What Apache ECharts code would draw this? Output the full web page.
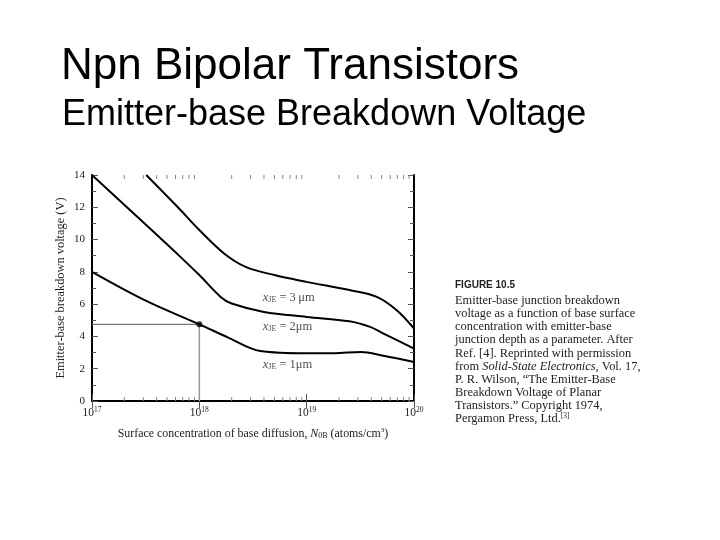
<!DOCTYPE html>
<html><head><meta charset="utf-8">
<script src="https://cdn.jsdelivr.net/npm/echarts@6/dist/echarts.min.js"></script>
<style>html,body{margin:0;padding:0;background:#fff}#c{width:720px;height:540px}</style>
</head><body><div id="c"></div>
<script>
// Data
const xje1X = [1e17, 3.2e17, 1e18, 1.9e18, 3.7e18, 1e19, 1.8e19, 3.2e19, 5.2e19, 1e20];
const xje1Y = [8.0, 6.2, 4.75, 3.9, 3.1, 2.96, 2.96, 3.04, 2.8, 2.42];
const xje2X = [1e17, 3.2e17, 6.25e17, 1e18, 1.58e18, 2e18, 4e18, 1e19, 2.5e19, 3.9e19, 5.2e19, 1e20];
const xje2Y = [14.0, 10.9, 9.1, 7.8, 6.45, 6.04, 5.52, 5.21, 4.94, 4.59, 4.18, 3.25];
const xje3X = [3.2e17, 6.25e17, 1e18, 1.7e18, 2.7e18, 5e18, 1e19, 2.5e19, 4.5e19, 6.9e19, 1e20];
const xje3Y = [14.0, 12.03, 10.59, 9.14, 8.31, 7.8, 7.38, 6.87, 6.45, 5.62, 4.49];
const curveLabels = ['3\u2009\u03bcm', '2\u03bcm', '1\u03bcm'];
const labelX = [3.9e18, 3.9e18, 3.9e18];
const labelY = [6.4, 4.6, 2.27];
const markX = 1e18, markY = 4.75;
const minorX = [2e17,3e17,4e17,5e17,6e17,7e17,8e17,9e17,2e18,3e18,4e18,5e18,6e18,7e18,8e18,9e18,2e19,3e19,4e19,5e19,6e19,7e19,8e19,9e19];
const captionLines = [
  'Emitter-base junction breakdown',
  'voltage as a function of base surface',
  'concentration with emitter-base',
  'junction depth as a parameter. After',
  'Ref. [4]. Reprinted with permission',
  'from {i|Solid-State Electronics}, Vol. 17,',
  'P. R. Wilson, \u201cThe Emitter-Base',
  'Breakdown Voltage of Planar',
  'Transistors.\u201d Copyright 1974,',
  'Pergamon Press, Ltd.{s|[3]}'
];

const zip = (xs, ys) => xs.map((x, i) => [x, ys[i]]);
const serif = 'Liberation Serif';
const chart = echarts.init(document.getElementById('c'));
const supRich = {b: {fontFamily: serif, fontSize: 11.5, color: '#222'}, s: {fontFamily: serif, fontSize: 7.5, color: '#222', verticalAlign: 'top', padding: [0,0,6,0]}};
const lineSeries = (xs, ys) => ({type: 'line', data: zip(xs, ys), smooth: 0.35, showSymbol: false, lineStyle: {color: '#000', width: 2}, z: 5, silent: true});

chart.setOption({
  animation: false,
  backgroundColor: '#fff',
  title: [
    {text: 'Npn Bipolar Transistors', left: 61, top: 44.5, padding: 0, textStyle: {fontFamily: 'Liberation Sans', fontSize: 44, fontWeight: 'normal', color: '#000'}},
    {text: 'Emitter-base Breakdown Voltage', left: 62, top: 97.5, padding: 0, textStyle: {fontFamily: 'Liberation Sans', fontSize: 36, fontWeight: 'normal', color: '#000'}},
    {text: 'FIGURE 10.5', left: 455, top: 280, padding: 0, textStyle: {fontFamily: 'Liberation Sans', fontSize: 10, fontWeight: 'bold', color: '#222'}},
    {text: captionLines.join('\n'), left: 455, top: 294.3, padding: 0, textStyle: {fontFamily: serif, fontSize: 12.4, lineHeight: 13.1, fontWeight: 'normal', color: '#222',
      rich: {i: {fontFamily: serif, fontSize: 12.4, fontStyle: 'italic', color: '#222', lineHeight: 13.1}, s: {fontFamily: serif, fontSize: 7.5, color: '#222', verticalAlign: 'top', lineHeight: 13.1}}}}
  ],
  grid: {left: 92, right: 306, top: 175, bottom: 139},
  xAxis: [
    {type: 'log', logBase: 10, min: 1e17, max: 1e20, position: 'bottom',
     axisLine: {lineStyle: {color: '#000', width: 2}}, axisTick: {inside: true, length: 7, lineStyle: {color: '#555'}},
     splitLine: {show: false}, minorTick: {show: false},
     axisLabel: {margin: 5, formatter: v => '{b|10}{s|' + Math.round(Math.log10(v)) + '}', rich: supRich},
     name: '{t|Surface concentration of base diffusion, }{i|N}{sub|0B}{t| (atoms/cm}{s|3}{t|)}', nameLocation: 'middle', nameGap: 26,
     nameTextStyle: {rich: {t: {fontFamily: serif, fontSize: 11.9, color: '#222'}, i: {fontFamily: serif, fontSize: 11.9, fontStyle: 'italic', color: '#222'}, sub: {fontFamily: serif, fontSize: 8, color: '#222', verticalAlign: 'bottom', padding: [4,0,0,0]}, s: {fontFamily: serif, fontSize: 7, color: '#222', verticalAlign: 'top', padding: [0,0,6,0]}}}},
    {type: 'log', logBase: 10, min: 1e17, max: 1e20, position: 'top',
     axisLine: {lineStyle: {color: '#000', width: 2}}, axisTick: {inside: true, length: 7, lineStyle: {color: '#555'}},
     axisLabel: {show: false}, splitLine: {show: false}}
  ],
  yAxis: [
    {type: 'value', min: 0, max: 14, interval: 2, position: 'left',
     axisLine: {show: true, lineStyle: {color: '#000', width: 2}}, axisTick: {show: true, inside: true, length: 6, lineStyle: {color: '#555'}},
     minorTick: {show: true, splitNumber: 2, length: 4, lineStyle: {color: '#555'}},
     splitLine: {show: false},
     axisLabel: {fontFamily: serif, fontSize: 11, color: '#222', margin: 7},
     name: 'Emitter-base breakdown voltage (V)', nameLocation: 'middle', nameGap: 25, nameRotate: 90,
     nameTextStyle: {fontFamily: serif, fontSize: 12.4, color: '#222'}},
    {type: 'value', min: 0, max: 14, interval: 2, position: 'right',
     axisLine: {show: true, lineStyle: {color: '#000', width: 2}}, axisTick: {show: true, inside: true, length: 6, lineStyle: {color: '#555'}},
     minorTick: {show: true, splitNumber: 2, length: 4, lineStyle: {color: '#555'}},
     splitLine: {show: false}, axisLabel: {show: false}}
  ],
  series: [
    lineSeries(xje1X, xje1Y),
    lineSeries(xje2X, xje2Y),
    lineSeries(xje3X, xje3Y),
    {type: 'line', data: [[1e17, markY], [markX, markY]], showSymbol: false, lineStyle: {color: '#777', width: 1.2}, z: 3, silent: true},
    {type: 'line', data: [[markX, markY], [markX, 0]], showSymbol: false, lineStyle: {color: '#999', width: 1.5}, z: 3, silent: true},
    {type: 'scatter', data: [[markX, markY]], symbolSize: 6, itemStyle: {color: '#000'}, z: 6, silent: true},
    {type: 'scatter', symbolSize: 0, z: 6, silent: true,
     data: labelX.map((x, i) => ({value: [x, labelY[i]], name: curveLabels[i]})),
     label: {show: true, position: [0, 0], align: 'left', verticalAlign: 'middle',
       formatter: p => '{i|x}{sub|JE}{t| = ' + p.name + '}',
       rich: {i: {fontFamily: serif, fontStyle: 'italic', fontSize: 12.5, color: '#222'}, sub: {fontFamily: serif, fontSize: 8, color: '#222', verticalAlign: 'bottom', padding: [5,0,0,0]}, t: {fontFamily: serif, fontSize: 12.5, color: '#222'}}}},
    {type: 'custom', silent: true, z: 4,
     data: minorX.map(v => [v, 0]),
     renderItem: (params, api) => {
       const b = api.coord([api.value(0), 0]);
       const t = api.coord([api.value(0), 14]);
       return {type: 'group', children: [
         {type: 'line', shape: {x1: b[0], y1: b[1], x2: b[0], y2: b[1] - 4}, style: {stroke: '#888', lineWidth: 1}},
         {type: 'line', shape: {x1: t[0], y1: t[1], x2: t[0], y2: t[1] + 4}, style: {stroke: '#888', lineWidth: 1}}
       ]};
     }}
  ]
});
</script></body></html>
